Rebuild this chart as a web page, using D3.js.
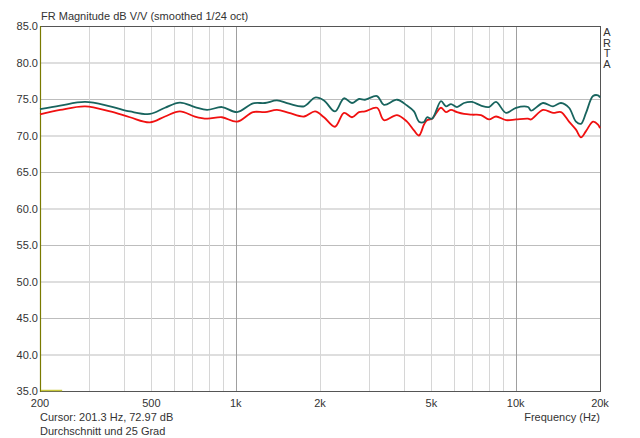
<!DOCTYPE html>
<html><head><meta charset="utf-8">
<script src="https://cdn.jsdelivr.net/npm/d3@7"></script>
<style>body{margin:0;background:#fff}svg{display:block}text{font-family:"Liberation Sans",Arial,sans-serif;font-size:11px;fill:#333}</style>
</head><body><svg id="c" width="640" height="438"></svg>
<script>
const freqs = [200,236,290,356,419,494,559,632,715,790,893,1011,1153,1272,1404,1550,1754,1920,2066,2262,2436,2602,2756,2896,3196,3385,3768,4090,4332,4514,4704,4822,5024,5410,5636,5874,6170,6536,6982,7516,8026,8504,9234,10024,11068,11340,12516,13592,14512,15502,16416,17104,17826,18882,19674,20000];
const tealDb = [73.6,74.1,74.6,74.0,73.3,72.95,73.8,74.5,73.9,73.5,73.9,73.2,74.4,74.45,74.8,74.35,74.0,75.2,74.8,73.3,75.1,74.45,75.0,74.9,75.4,74.2,74.9,74.1,73.3,71.9,71.85,72.5,72.3,74.7,74.0,74.3,73.9,74.45,74.6,74.1,73.9,74.6,73.1,73.8,73.9,73.4,74.45,74.0,74.45,73.8,71.9,71.6,73.1,75.4,75.5,75.2];
const redDb = [72.9,73.5,74.0,73.3,72.5,71.8,72.6,73.3,72.6,72.3,72.5,71.9,73.2,73.2,73.5,73.1,72.6,73.3,72.5,71.2,73.1,72.5,73.2,73.3,73.8,72.1,72.8,71.9,70.7,70.0,71.5,72.1,72.3,73.8,73.2,73.5,73.2,72.95,72.85,72.8,72.2,72.6,72.1,72.2,72.3,72.2,73.5,73.1,73.2,71.9,70.8,69.75,70.6,71.9,71.5,71.0];
const yTicks = [35,40,45,50,55,60,65,70,75,80,85];
const xTickVals = [200,500,1000,2000,5000,10000,20000];
const xTickLabels = ["200","500","1k","2k","5k","10k","20k"];
const xGrid = [300,400,500,600,700,800,900,1000,2000,3000,4000,5000,6000,7000,8000,9000,10000];
const majorGrid = [1000,10000];

const L=40,R=600,T=26,B=391;
const svg=d3.select("#c");
const x=d3.scaleLog().domain([200,20000]).range([L,R]);
const y=d3.scaleLinear().domain([35,85]).range([B,T]);

// horizontal grid
svg.append("g").selectAll("line").data(yTicks).join("line")
 .attr("x1",L).attr("x2",R).attr("y1",d=>y(d)+0.5).attr("y2",d=>y(d)+0.5)
 .attr("stroke","#bdbdbd").attr("stroke-width",1);
// vertical grid
svg.append("g").selectAll("line").data(xGrid).join("line")
 .attr("x1",d=>Math.round(x(d))+0.5).attr("x2",d=>Math.round(x(d))+0.5).attr("y1",T).attr("y2",B)
 .attr("stroke",d=>majorGrid.includes(d)?"#a0a0a0":"#d6d6d6").attr("stroke-width",1);

// frame
svg.append("line").attr("x1",L).attr("x2",R+0.5).attr("y1",T+0.5).attr("y2",T+0.5).attr("stroke","#555");
svg.append("line").attr("x1",R+0.5).attr("x2",R+0.5).attr("y1",T).attr("y2",B+1).attr("stroke","#555");
svg.append("line").attr("x1",L).attr("x2",R+1).attr("y1",B+0.5).attr("y2",B+0.5).attr("stroke","#555");
svg.append("line").attr("x1",L+0.5).attr("x2",L+0.5).attr("y1",T).attr("y2",B+1).attr("stroke","#7a7a00").attr("stroke-width",1.2);
// cursor marker
svg.append("line").attr("x1",L+1).attr("x2",x(240)).attr("y1",B-0.5).attr("y2",B-0.5).attr("stroke","#c8c83c").attr("stroke-width",1.5);

// curves
const line=d3.line().x((d,i)=>x(freqs[i])).y(d=>y(d)).curve(d3.curveCatmullRom.alpha(0.5));
svg.append("path").attr("d",line(redDb)).attr("fill","none").attr("stroke","#f01010").attr("stroke-width",1.8);
svg.append("path").attr("d",line(tealDb)).attr("fill","none").attr("stroke","#18645e").attr("stroke-width",1.8);

// y labels
svg.append("g").selectAll("text").data(yTicks).join("text")
 .attr("x",L-2).attr("y",d=>y(d)+4).attr("text-anchor","end").text(d=>d.toFixed(1));
// x labels
svg.append("g").selectAll("text").data(xTickVals).join("text")
 .attr("x",d=>x(d)).attr("y",B+16).attr("text-anchor","middle").text((d,i)=>xTickLabels[i]);

svg.append("text").attr("x",L+1).attr("y",T-6).text("FR Magnitude dB V/V (smoothed 1/24 oct)");
svg.append("text").attr("x",R).attr("y",B+30).attr("text-anchor","end").text("Frequency (Hz)");
svg.append("text").attr("x",L).attr("y",B+30).text("Cursor: 201.3 Hz, 72.97 dB");
svg.append("text").attr("x",L).attr("y",B+44).text("Durchschnitt und 25 Grad");
svg.append("g").selectAll("text").data(["A","R","T","A"]).join("text")
 .attr("x",R+7).attr("y",(d,i)=>T+10+i*10.5).attr("text-anchor","middle").text(d=>d);
</script></body></html>
